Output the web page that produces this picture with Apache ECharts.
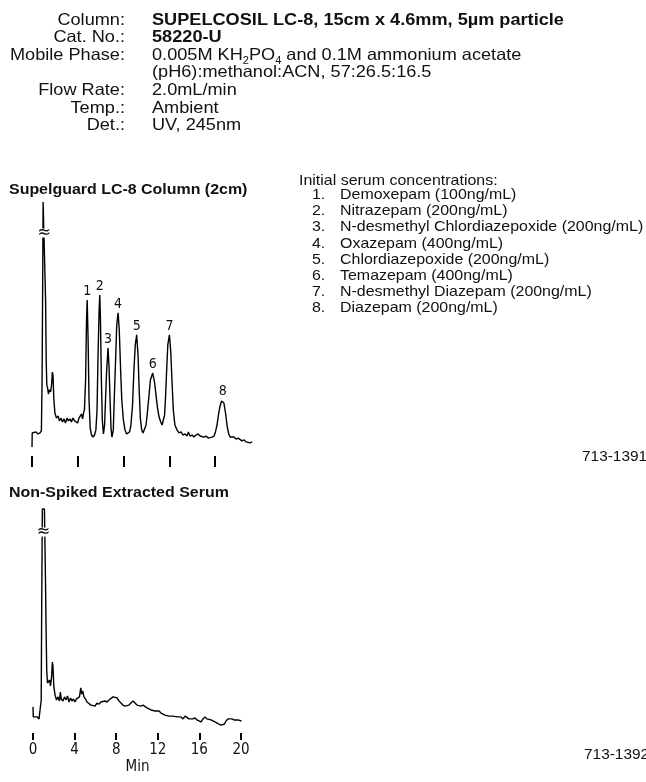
<!DOCTYPE html>
<html><head><meta charset="utf-8">
<script src="https://cdn.jsdelivr.net/npm/echarts@6/dist/echarts.min.js"></script>
<style>html,body{margin:0;padding:0;background:#fff}#c{width:646px;height:782px}</style>
</head><body><div id="c"></div>
<script>
// ---- Data ----
const topTime = [0,0.01,0.09,0.17,0.26,0.35,0.41,0.44,0.465,0.485,0.568,0.594,0.62,0.646,0.68,0.72,0.76,0.81,0.85,0.89,0.92,0.95,1.00,1.07,1.14,1.20,1.27,1.33,1.40,1.46,1.53,1.59,1.66,1.72,1.79,1.86,1.92,1.99,2.05,2.12,2.16,2.21,2.25,2.29,
  2.34,2.38,2.41,2.45,2.49,2.54,2.60,2.66,2.73,2.79,
  2.84,2.88,2.93,2.96,2.99,3.03,3.07,3.12,
  3.17,3.21,3.26,3.32,3.36,3.41,3.45,3.49,
  3.55,3.59,3.65,3.70,3.76,3.81,3.87,3.92,3.99,4.06,4.13,4.19,
  4.26,4.32,4.39,4.45,4.51,4.57,4.63,4.68,4.73,4.79,4.85,
  4.91,4.98,5.04,5.11,5.17,5.27,5.35,5.42,5.48,5.55,5.62,5.68,5.74,
  5.79,5.83,5.88,5.93,6.00,6.06,6.12,6.17,6.24,6.33,6.42,6.51,6.59,6.68,6.77,6.83,6.90,6.99,7.07,7.16,7.25,7.34,7.42,7.51,7.60,7.69,7.77,7.86,7.95,
  8.01,8.08,8.14,8.21,8.28,8.33,8.38,8.45,8.52,8.59,8.65,8.73,8.82,8.91,9.00,9.08,9.17,9.26,9.35,9.43,9.52,9.61];
const topSignal = [3.5,9.0,8.6,9.4,8.6,9.0,9.8,29.7,64.8,99.2,99.2,60.9,37.5,27.7,26.6,24.2,25.8,25.0,27.3,32.8,31.3,22.7,16.8,14.8,15.6,13.7,14.8,13.3,14.5,12.9,14.8,13.7,14.5,13.3,14.8,13.7,14.1,12.9,14.8,14.1,16.4,14.5,16.8,18.0,
  29.7,53.1,60.9,45.3,21.9,10.9,8.2,7.4,8.2,10.2,
  18.0,37.5,57.0,62.9,53.1,29.7,14.1,8.6,
  12.1,21.9,33.6,42.2,35.5,21.9,10.9,7.4,
  10.2,21.9,37.5,51.2,55.9,49.2,33.6,21.9,14.1,10.2,8.6,8.2,
  9.4,12.1,19.9,33.6,43.4,47.3,39.5,25.8,14.8,10.2,9.0,
  9.4,12.1,17.2,23.8,29.7,32.4,28.9,23.4,18.8,15.2,13.3,12.1,12.5,
  16.0,22.7,33.6,43.4,47.3,40.6,27.7,18.0,12.1,10.2,9.0,9.4,8.2,8.6,7.8,9.4,7.8,8.2,7.4,8.2,8.6,7.8,8.2,7.4,7.8,7.0,7.4,7.4,7.8,
  9.4,12.1,16.0,19.5,21.5,21.9,20.7,16.8,11.7,8.6,7.4,7.0,7.4,6.6,7.0,6.3,5.9,6.3,5.5,5.9,5.1,5.5];

const bottomTime = [0,0.03,0.19,0.38,0.58,0.72,0.79,0.84,0.90,1.10,1.20,1.26,1.32,1.39,1.49,1.59,1.68,1.78,1.86,1.92,
  2.00,2.12,2.26,2.40,2.55,2.63,2.72,2.88,3.03,3.17,3.32,3.46,3.61,3.75,3.89,4.04,4.18,4.33,4.47,4.59,
  4.68,4.78,4.90,5.05,5.19,5.38,5.58,5.77,5.96,6.15,6.35,6.54,6.73,6.92,7.12,7.31,7.50,7.69,7.88,8.08,
  8.27,8.46,8.65,8.85,9.04,9.23,9.42,9.62,9.81,10.00,10.19,10.38,10.58,10.77,10.96,11.15,11.35,11.54,11.73,11.92,
  12.12,12.31,12.50,12.69,12.88,13.08,13.27,13.46,13.65,13.85,14.04,14.23,14.42,14.62,14.81,15.00,15.19,15.38,15.58,15.77,
  15.96,16.15,16.35,16.54,16.73,16.92,17.12,17.31,17.50,17.69,17.88,18.08,18.27,18.41,18.56,18.75,18.94,19.13,19.33,19.52,
  19.71,19.90,20.05];
const bottomSignal = [10.2,6.3,5.9,6.3,5.5,5.9,12.9,52.0,87.5,87.5,60.0,40.0,24.6,19.5,19.1,20.7,18.4,21.5,27.7,26.2,
  18.4,14.8,12.9,14.1,12.5,16.0,13.3,12.5,14.1,12.9,14.5,12.1,13.7,12.5,13.3,12.1,13.3,12.9,14.1,17.6,
  15.2,16.4,14.1,13.3,12.1,11.7,10.9,11.3,10.5,11.7,11.3,12.1,11.7,12.5,12.1,12.9,13.3,14.1,14.8,13.7,
  12.5,11.7,10.9,10.5,10.2,10.9,11.7,12.5,11.7,10.9,11.3,10.5,10.9,10.2,9.8,10.2,9.0,9.4,8.6,8.2,
  8.6,7.8,7.4,7.0,7.4,6.6,7.0,6.6,7.0,6.3,5.9,6.3,5.5,6.6,6.3,5.5,5.9,5.5,5.9,5.1,
  4.7,4.3,5.5,6.3,5.5,5.9,5.1,4.7,4.3,3.9,3.5,3.1,2.7,3.5,4.7,5.5,5.1,5.5,5.1,5.5,
  5.1,5.1,4.7];

const peakNumbers = ['1','2','3','4','5','6','7','8'];
const peakTimes   = [2.41,2.96,3.32,3.76,4.57,5.27,6.00,8.33];
const peakHeights = [60.9,62.9,42.2,55.9,47.3,32.4,47.3,21.9];
const topBreak = [0.53, 87.1];
const bottomBreak = [1.0, 78.5];
const topTicks = [0,2,4,6,8];
const bottomTicks = [0,4,8,12,16,20];

const headerLabels = ['Column:','Cat. No.:','Mobile Phase:','','Flow Rate:','Temp.:','Det.:'];
const legendTitle = 'Initial serum concentrations:';
const legendNames = ['Demoxepam (100ng/mL)','Nitrazepam (200ng/mL)','N-desmethyl Chlordiazepoxide (200ng/mL)','Oxazepam (400ng/mL)','Chlordiazepoxide (200ng/mL)','Temazepam (400ng/mL)','N-desmethyl Diazepam (200ng/mL)','Diazepam (200ng/mL)'];

// ---- Chart ----
const SANS = "'Liberation Sans', Arial, Helvetica, sans-serif";
const NARROW = "'DejaVu Sans Condensed', 'Liberation Sans Narrow', sans-serif";
const SX = 1.1; // reference text is slightly wide
const chart = echarts.init(document.getElementById('c'), null, {renderer: 'canvas'});

const graphics = [];
function txt(x, y, style) {
  graphics.push({type:'text', x:x, y:y, scaleX:SX, style:Object.assign({fill:'#111', textVerticalAlign:'middle'}, style)});
}
// header
const hdrY0 = 20, hdrStep = 17.6;
headerLabels.forEach((t, i) => {
  if (!t) return;
  txt(125, hdrY0 + i*hdrStep, {text:t, font:'16.5px ' + SANS, textAlign:'right'});
});
const hdrRich = {
  b:{fontFamily:SANS, fontSize:16.5, fontWeight:'bold', color:'#111', lineHeight:18},
  n:{fontFamily:SANS, fontSize:16.5, color:'#111', lineHeight:18},
  s:{fontFamily:SANS, fontSize:10, color:'#111', lineHeight:10, padding:[12,0,0,0]}
};
const hdrValues = [
  '{b|SUPELCOSIL LC-8, 15cm x 4.6mm, 5µm particle}',
  '{b|58220-U}',
  '{n|0.005M KH}{s|2}{n|PO}{s|4}{n| and 0.1M ammonium acetate}',
  '{n|(pH6):methanol:ACN, 57:26.5:16.5}',
  '{n|2.0mL/min}',
  '{n|Ambient}',
  '{n|UV, 245nm}'
];
hdrValues.forEach((t, i) => {
  txt(152, hdrY0 + i*hdrStep, {text:t, rich:hdrRich, textAlign:'left'});
});
// chart titles
txt(9, 190, {text:'Supelguard LC-8 Column (2cm)', font:'bold 14.5px ' + SANS});
txt(9, 493, {text:'Non-Spiked Extracted Serum', font:'bold 14.5px ' + SANS});
// legend
txt(299, 181, {text:legendTitle, font:'14.5px ' + SANS});
legendNames.forEach((n, i) => {
  const y = 195 + i*16.2;
  txt(312, y, {text:(i+1)+'.', font:'14.5px ' + SANS});
  txt(340, y, {text:n, font:'14.5px ' + SANS});
});
// catalog numbers
txt(582, 457, {text:'713-1391', font:'14px ' + SANS});
txt(584, 755, {text:'713-1392', font:'14px ' + SANS});

function breakMark(coord) {
  return {coord: coord, symbol:'circle', symbolSize:0,
    label:{show:true, formatter:'≈', position:'inside', color:'#000', fontSize:16, fontFamily:'DejaVu Sans',
      backgroundColor:'#fff', padding:[0,1,0,1], lineHeight:9}};
}

const option = {
  animation:false,
  backgroundColor:'#fff',
  graphic: graphics,
  grid:[
    {left:32, top:200, width:221, height:256},
    {left:33, top:477, width:209, height:256}
  ],
  xAxis:[
    {type:'value', gridIndex:0, min:0, max:9.65,
      axisLine:{show:false}, splitLine:{show:false},
      axisTick:{show:true, inside:false, length:11, lineStyle:{color:'#000', width:2}, customValues:topTicks},
      axisLabel:{show:false}},
    {type:'value', gridIndex:1, min:0, max:20.1,
      axisLine:{show:false}, splitLine:{show:false},
      axisTick:{show:true, inside:false, length:7, lineStyle:{color:'#000', width:2}, customValues:bottomTicks},
      axisLabel:{show:true, customValues:bottomTicks, margin:10, color:'#111', fontSize:15, fontFamily:NARROW},
      name:'Min', nameLocation:'middle', nameGap:27, nameTextStyle:{color:'#111', fontSize:15, fontFamily:NARROW}}
  ],
  yAxis:[
    {type:'value', gridIndex:0, min:0, max:100, show:false},
    {type:'value', gridIndex:1, min:0, max:100, show:false}
  ],
  series:[
    {type:'line', xAxisIndex:0, yAxisIndex:0, data: topTime.map((t,i)=>[t, topSignal[i]]),
      showSymbol:false, symbol:'none', lineStyle:{color:'#000', width:1.4}, z:2,
      markPoint:{silent:true, data:[
        ...peakNumbers.map((p,i)=>({coord:[peakTimes[i], peakHeights[i]], symbol:'circle', symbolSize:0,
          label:{show:true, formatter:p, position:'top', distance:2, color:'#111', fontSize:14, fontFamily:NARROW}})),
        breakMark(topBreak)
      ]}},
    {type:'line', xAxisIndex:1, yAxisIndex:1, data: bottomTime.map((t,i)=>[t, bottomSignal[i]]),
      showSymbol:false, symbol:'none', lineStyle:{color:'#000', width:1.4}, z:2,
      markPoint:{silent:true, data:[breakMark(bottomBreak)]}}
  ]
};
chart.setOption(option);
</script>
</body></html>
